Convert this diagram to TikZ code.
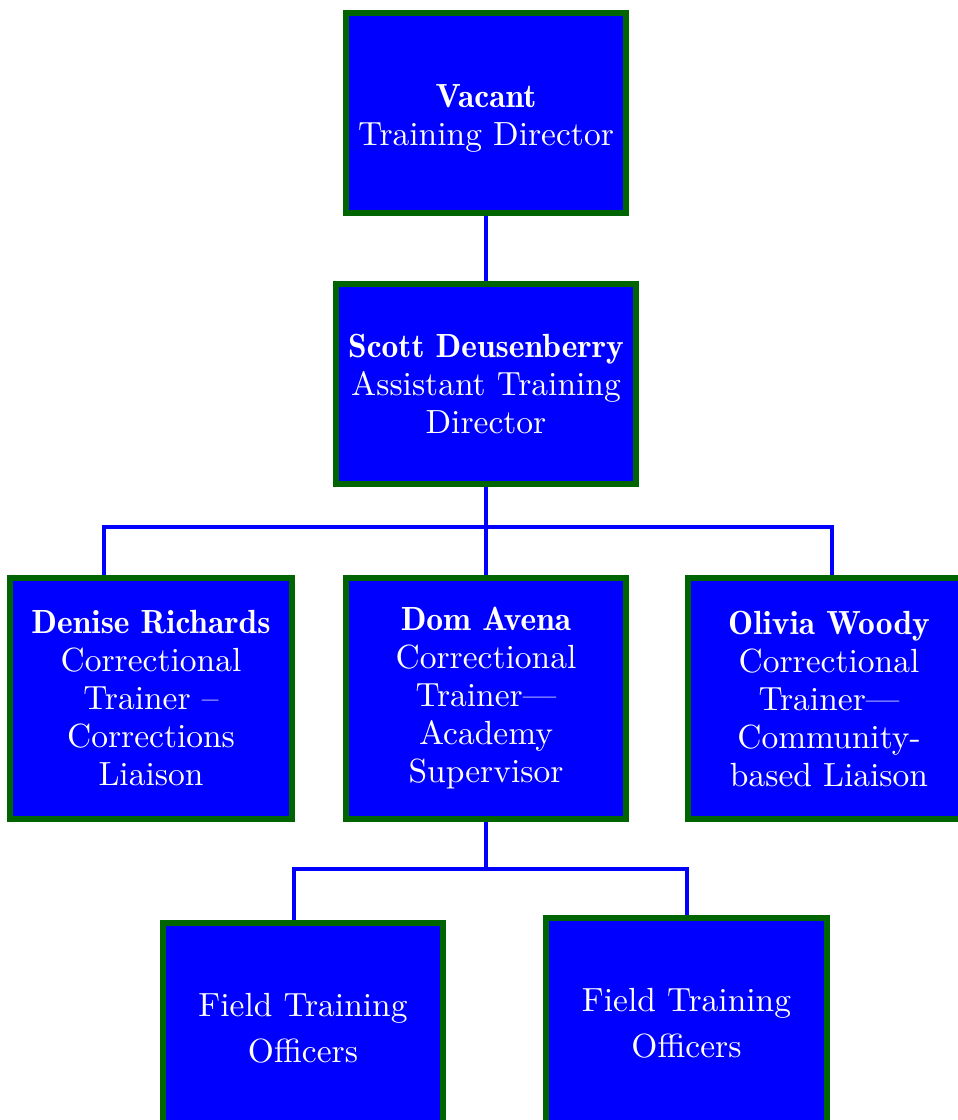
\documentclass[tikz,border=0pt]{standalone}
\usepackage{fontspec}
\usetikzlibrary{positioning}
\setmainfont{lmroman10-regular.otf}
\newfontfamily\demifont{lmromandemi10-regular.otf}
\definecolor{orgBlue}{RGB}{0,0,255}
\definecolor{orgGreen}{RGB}{0,100,0}

\begin{document}
\begin{tikzpicture}[
              orgBox/.style={
                draw=orgGreen, fill=orgBlue, line width=6pt, %inner sep=0pt,
                text=white, align=center, inner sep=0pt,
                font=\fontsize{33.5}{38}\selectfont,
                minimum width=280pt, minimum height=241pt
             },
              orgLine/.style={draw=orgBlue, line width=4pt} ]
              \useasboundingbox (0,0) rectangle (958pt,-1120pt);
              \node[orgBox, minimum height=200pt, text height=71pt] (dir) at (486pt,-113pt)
                {{\demifont Vacant}\\Training Director};
              \node[orgBox, minimum height=200pt, minimum width=300pt, below=65pt of dir] (asst)
                {{\demifont Scott Deusenberry}\\Assistant Training\\Director};
              \node[orgBox, below=88pt of asst] (dom)
                {{\demifont Dom Avena}\\Correctional\\Trainer---\\Academy\\Supervisor};
              \node[orgBox, minimum width=282pt, left=48pt of dom] (denise)
                {{\demifont Denise Richards}\\Correctional\\Trainer --\\Corrections\\Liaison};
              \node[orgBox, minimum width=282pt, right=56pt of dom] (olivia)
                {{\demifont Olivia Woody}\\Correctional\\Trainer---\\Community-\\based Liaison};
              \node[orgBox, minimum height=210pt, font=\fontsize{33.5}{46}\selectfont,
                below=98pt of dom, xshift=-183pt] (ftoA) {Field Training\\Officers};
              \node[orgBox, minimum height=210pt, minimum width=281pt, font=\fontsize{33.5}{46}\selectfont,
                below=93pt of dom, xshift=200.5pt] (ftoB) {Field Training\\Officers};
              % connectors
              \coordinate[below=40pt of asst.south] (busA);
              \coordinate[below=47pt of dom.south] (busB);
              \draw[orgLine] (dir) -- (asst);
              \draw[orgLine] (asst) -- (dom);
              \draw[orgLine] ([xshift=-47pt]denise.north) |- (busA) -| ([xshift=3pt]olivia.north);
              \draw[orgLine] (dom.south) -- (busB);
              \draw[orgLine] ([xshift=-9pt]ftoA.north) |- (busB) -| (ftoB.north);
            \end{tikzpicture}
\end{document}
